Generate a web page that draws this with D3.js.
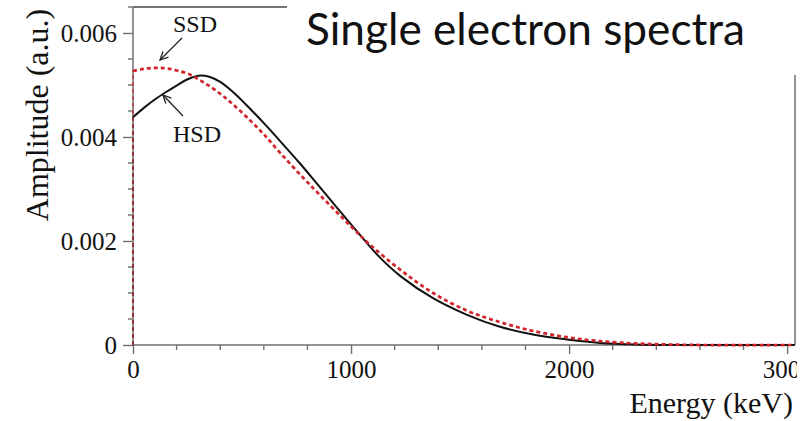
<!DOCTYPE html>
<html>
<head>
<meta charset="utf-8">
<script src="https://cdn.jsdelivr.net/npm/d3@7"></script>
<style>
  html, body { margin: 0; padding: 0; background: #fff; }
  svg { display: block; }
</style>
</head>
<body>
<svg id="chart" width="806" height="421"></svg>
<script>
// ---- data ----
const energyHSD = [0, 50, 100, 150, 200, 250, 300, 350, 400, 460, 540, 615, 690, 766, 858, 1000, 1073, 1133, 1225, 1376, 1532, 1683, 1835, 2000, 2142, 2300, 2500, 3036];
const ampHSD    = [0.00438, 0.00456, 0.00472, 0.00486, 0.00499, 0.00511, 0.00518, 0.00516, 0.00506, 0.00486, 0.00453, 0.00420, 0.00385, 0.00349, 0.00303, 0.00232, 0.00196, 0.00168, 0.00133, 0.00090, 0.00058, 0.00035, 0.00020, 0.00010, 0.00004, 0.00001, 0, 0];

const energySSD = [0, 50, 100, 150, 200, 261, 320, 385, 450, 537, 600, 674, 766, 858, 1000, 1087, 1225, 1376, 1532, 1683, 1835, 1990, 2128, 2300, 2450, 2600, 3036];
const ampSSD    = [0.00527, 0.00531, 0.00533, 0.00532, 0.00528, 0.00520, 0.00506, 0.00488, 0.00466, 0.00432, 0.00405, 0.00370, 0.00328, 0.00288, 0.00228, 0.00193, 0.00145, 0.00100, 0.00066, 0.00044, 0.00027, 0.00015, 0.00008, 0.00003, 0.00001, 0, 0];

const xTicksMajor = [0, 1000, 2000, 3000];
const yTicksMajor = [0, 0.002, 0.004, 0.006];
const yTickLabels = ["0", "0.002", "0.004", "0.006"];
const titleText = "Single electron spectra";
const xTitle = "Energy (keV)";
const yTitle = "Amplitude (a.u.)";

// ---- layout ----
const svg = d3.select("#chart");
const x = d3.scaleLinear().domain([0, 3036]).range([133, 795]);
const y = d3.scaleLinear().domain([0, 0.0065]).range([345, 7]);
const axisColor = "#6f6f6f";
const serif = "'Liberation Serif', 'Times New Roman', serif";

// minor ticks
const xMinor = d3.range(0, 3001, 200).filter(v => !xTicksMajor.includes(v));
const yMinor = d3.range(0, 0.00651, 0.0005).filter(v => !yTicksMajor.some(t => Math.abs(t - v) < 1e-9));

// frame (top and right)
svg.append("line").attr("x1", x(0)).attr("x2", x(3036)).attr("y1", y(0.0065)).attr("y2", y(0.0065))
  .attr("stroke", "#444").attr("stroke-width", 1.3);
svg.append("line").attr("x1", x(3036)).attr("x2", x(3036)).attr("y1", y(0.0065)).attr("y2", y(0))
  .attr("stroke", axisColor).attr("stroke-width", 1.5);

// axes
const gx = svg.append("g").attr("transform", `translate(0,${y(0)})`)
  .call(d3.axisBottom(x).tickValues(xTicksMajor).tickSize(9).tickPadding(6).tickFormat(d3.format("d")));
const gy = svg.append("g").attr("transform", `translate(${x(0)},0)`)
  .call(d3.axisLeft(y).tickValues(yTicksMajor).tickSize(10).tickPadding(6).tickFormat((d, i) => yTickLabels[i]));
gx.select(".domain").attr("d", `M${x(0)},0H${x(3036)}`);
gy.select(".domain").attr("d", `M0,${y(0)}V${y(0.0065)}`);
[gx, gy].forEach(g => {
  g.select(".domain").attr("stroke", axisColor).attr("stroke-width", 1.5);
  g.selectAll(".tick line").attr("stroke", axisColor).attr("stroke-width", 1.4);
  g.selectAll(".tick text").attr("fill", "#111").style("font-family", serif).style("font-size", "25px");
});
gx.selectAll(".minor").data(xMinor).enter().append("line")
  .attr("x1", d => x(d)).attr("x2", d => x(d)).attr("y1", 0).attr("y2", 5)
  .attr("stroke", axisColor).attr("stroke-width", 1.4);
gy.selectAll(".minor").data(yMinor).enter().append("line")
  .attr("y1", d => y(d)).attr("y2", d => y(d)).attr("x1", 0).attr("x2", -5)
  .attr("stroke", axisColor).attr("stroke-width", 1.4);

// curves
const hsd = energyHSD.map((e, i) => [e, ampHSD[i]]);
const ssd = energySSD.map((e, i) => [e, ampSSD[i]]);
const line = d3.line().x(d => x(d[0])).y(d => Math.min(y(0), y(d[1]))).curve(d3.curveCatmullRom.alpha(0.5));
const rise = d3.line().x(d => x(d[0])).y(d => y(d[1]));

svg.append("path").attr("d", rise([[0, 0], hsd[0]])).attr("fill", "none")
  .attr("stroke", "#111").attr("stroke-width", 1.2).attr("stroke-dasharray", "4,3");
svg.append("path").attr("d", line(hsd)).attr("fill", "none")
  .attr("stroke", "#111").attr("stroke-width", 2);
svg.append("path").attr("d", rise([[0, 0], ssd[0]])).attr("fill", "none")
  .attr("stroke", "#d2232a").attr("stroke-width", 1.2).attr("stroke-dasharray", "4,3");
svg.append("path").attr("d", line(ssd)).attr("fill", "none")
  .attr("stroke", "#d2232a").attr("stroke-width", 2.7).attr("stroke-dasharray", "4,3");

// annotations
function arrow(x1, y1, x2, y2) {
  const g = svg.append("g").attr("stroke", "#222").attr("stroke-width", 1.3).attr("fill", "none");
  g.append("line").attr("x1", x1).attr("y1", y1).attr("x2", x2).attr("y2", y2);
  const ang = Math.atan2(y1 - y2, x1 - x2);
  const L = 9, a = 0.45;
  g.append("path").attr("d",
    `M${x2 + L * Math.cos(ang - a)},${y2 + L * Math.sin(ang - a)}L${x2},${y2}L${x2 + L * Math.cos(ang + a)},${y2 + L * Math.sin(ang + a)}`);
}
svg.append("text").attr("x", 173).attr("y", 32).text("SSD")
  .style("font-family", serif).style("font-size", "24px").attr("fill", "#111");
arrow(182, 38, 160, 60);
svg.append("text").attr("x", 173).attr("y", 142).text("HSD")
  .style("font-family", serif).style("font-size", "24px").attr("fill", "#111");
arrow(183, 116, 163, 95);

// axis titles
svg.append("text").attr("x", 793).attr("y", 413).attr("text-anchor", "end").text(xTitle)
  .style("font-family", serif).style("font-size", "30px").attr("fill", "#111");
svg.append("text").attr("transform", "translate(48,115) rotate(-90)").attr("text-anchor", "middle").text(yTitle)
  .style("font-family", serif).style("font-size", "32px").attr("fill", "#111");

// title box covering top-right of the frame
svg.append("rect").attr("x", 287).attr("y", 0).attr("width", 519).attr("height", 75).attr("fill", "#fff");
svg.append("text").attr("x", 306).attr("y", 45).text(titleText)
  .attr("textLength", 439).attr("lengthAdjust", "spacingAndGlyphs")
  .style("font-family", "Lato, 'Open Sans', sans-serif").style("font-size", "45px").attr("fill", "#111");

// crop on the right edge (as in the reference)
svg.append("rect").attr("x", 797).attr("y", 0).attr("width", 9).attr("height", 421).attr("fill", "#fff");
</script>
</body>
</html>
